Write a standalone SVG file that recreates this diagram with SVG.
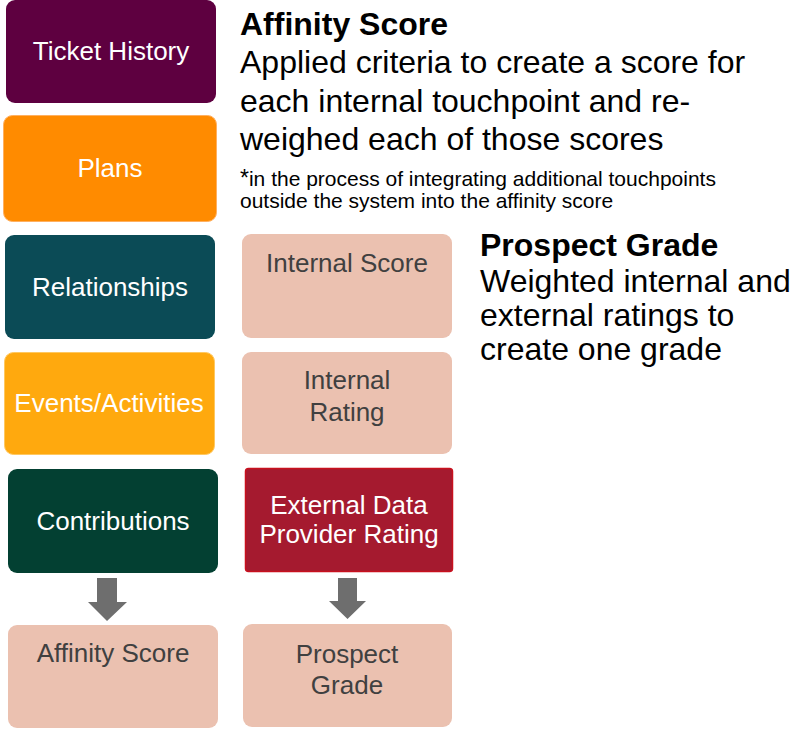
<svg xmlns="http://www.w3.org/2000/svg" width="792" height="731" viewBox="0 0 792 731">
<defs>
<style>
text{font-family:"Liberation Sans",Arial,sans-serif}
.lbl{font-size:26px;text-anchor:middle;fill:#ffffff}
.dk{font-size:26px;text-anchor:middle;fill:#404040}
.pink{fill:#EBC1B0}
.h{font-size:32px;font-weight:bold;fill:#000}
.b{font-size:32px;fill:#000}
.fn{font-size:21px;fill:#000}
.arr{fill:#6E6E6E}
</style>
</defs>
<rect width="792" height="731" fill="#ffffff"/>
<g id="ticket-history"><rect x="6" y="0" width="210" height="103" rx="9" fill="#5E0040"/><text class="lbl" x="111" y="60">Ticket History</text></g>
<g id="plans"><rect x="3.5" y="115.5" width="213" height="106" rx="9" fill="#FF8B00" stroke="#FFB060" stroke-width="1"/><text class="lbl" x="110" y="177">Plans</text></g>
<g id="relationships"><rect x="5" y="235" width="210" height="104" rx="9" fill="#0B4B56"/><text class="lbl" x="110" y="296">Relationships</text></g>
<g id="events"><rect x="4.5" y="352.5" width="210" height="102" rx="9" fill="#FFA90E" stroke="#FFC860" stroke-width="1"/><text class="lbl" x="109" y="412">Events/Activities</text></g>
<g id="contributions"><rect x="8" y="469" width="210" height="104" rx="9" fill="#034032"/><text class="lbl" x="113" y="530">Contributions</text></g>
<g id="affinity-score-box"><rect x="8" y="625" width="210" height="103" rx="9" class="pink"/><text class="dk" x="113" y="662">Affinity Score</text></g>
<g id="internal-score"><rect x="242" y="234" width="210" height="104" rx="9" class="pink"/><text class="dk" x="347" y="272">Internal Score</text></g>
<g id="internal-rating"><rect x="242" y="352" width="210" height="102" rx="9" class="pink"/><text class="dk" x="347" y="389">Internal</text><text class="dk" x="347" y="421">Rating</text></g>
<g id="external-rating"><rect x="245.5" y="468.5" width="207" height="103" rx="3" fill="#A51A2F" stroke="#C8101E" stroke-width="1.5"/><text class="lbl" x="349" y="514">External Data</text><text class="lbl" x="349" y="543">Provider Rating</text></g>
<g id="prospect-grade-box"><rect x="243" y="624" width="209" height="103" rx="9" class="pink"/><text class="dk" x="347" y="663">Prospect</text><text class="dk" x="347" y="694">Grade</text></g>
<g id="connectors">
<polygon class="arr" points="97,578 117,578 117,602 127,602 107,621 88,602 97,602"/>
<polygon class="arr" points="338,578 357,578 357,601 366,601 347.5,619 329,601 338,601"/>
</g>
<g id="affinity-text">
<text class="h" x="240" y="35">Affinity Score</text>
<text class="b" x="240" y="73">Applied criteria to create a score for</text>
<text class="b" x="240" y="112">each internal touchpoint and re-</text>
<text class="b" x="240" y="150">weighed each of those scores</text>
<text class="fn" x="240" y="186"><tspan font-size="23">*</tspan>in the process of integrating additional touchpoints</text>
<text class="fn" x="240" y="208">outside the system into the affinity score</text>
</g>
<g id="prospect-text">
<text class="h" x="480" y="256">Prospect Grade</text>
<text class="b" x="480" y="292">Weighted internal and</text>
<text class="b" x="480" y="326">external ratings to</text>
<text class="b" x="480" y="360">create one grade</text>
</g>
</svg>
